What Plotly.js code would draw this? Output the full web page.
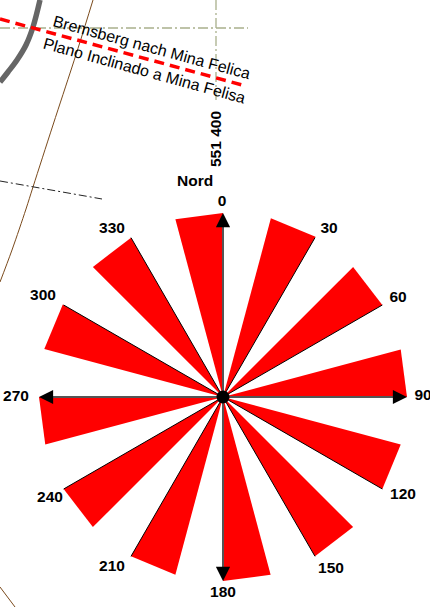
<!DOCTYPE html>
<html><head><meta charset="utf-8">
<script src="https://cdn.plot.ly/plotly-3.0.1.min.js"></script>
<style>html,body{margin:0;padding:0;background:#fff}#c{width:430px;height:607px}</style></head>
<body><div id="c"></div>
<script>
// Rose diagram
const sectorEnd = [0,30,60,90,120,150,180,210,240,270,300,330];
const sectorWidth = 15;
const sectorLen = [184,185,184,184,184,184,184,184,184,184,185,184];
const rays = [30,60,120,150,210,240,300,330];
const axes = [0,90,180,270];
const arrowTip = 184, arrowBase = 170, arrowHalf = 2.4;
const labels = ['0','30','60','90','120','150','180','210','240','270','300','330'];
const labelX = [222,329,398,423,403,331,223,112,50,16,43,112];
const labelY = [202,229,298,396,495,569,593,567,498,397,296,229];
// Map background (map units = picture grid)
const redX = [0,246], redY = [19,86];
const grayX = [40,33,26,17,8,0], grayY = [0,27,45,60,72,82];
const brownX = [93,80,72,53,33,26,12,0], brownY = [0,42,67,125,187,209,250,282];
const brown2X = [0,15], brown2Y = [587,607];
const gridHX = [0,248], gridHY = [28,28];
const gridVX = [216,216], gridVY = [0,103];
const dashX = [0,102], dashY = [181,199];

const traces = [
 {type:'scatter',mode:'lines',x:gridHX,y:gridHY,line:{color:'#a9b08c',width:1.3,dash:'10px,3px,2px,3px'},hoverinfo:'skip'},
 {type:'scatter',mode:'lines',x:gridVX,y:gridVY,line:{color:'#a9b08c',width:1.3,dash:'10px,3px,2px,3px'},hoverinfo:'skip'},
 {type:'scatter',mode:'lines',x:grayX,y:grayY,line:{color:'#666666',width:5.5,shape:'spline'},hoverinfo:'skip'},
 {type:'scatter',mode:'lines',x:brownX,y:brownY,line:{color:'#7a4a1c',width:1,shape:'spline'},hoverinfo:'skip'},
 {type:'scatter',mode:'lines',x:brown2X,y:brown2Y,line:{color:'#7a4a1c',width:1},hoverinfo:'skip'},
 {type:'scatter',mode:'lines',x:dashX,y:dashY,line:{color:'#222222',width:1,dash:'8px,3px,2px,3px'},hoverinfo:'skip'},
 {type:'scatter',mode:'lines',x:redX,y:redY,line:{color:'#ff0000',width:3.5,dash:'10px,6px'},hoverinfo:'skip'},
 {type:'scatter',mode:'text',x:labelX,y:labelY,text:labels,textposition:'middle center',
  textfont:{family:'Liberation Sans',size:15.5,color:'#000000',weight:700},cliponaxis:false,hoverinfo:'skip'}
];
sectorEnd.forEach((d,i)=>traces.push({type:'scatterpolar',mode:'lines',fill:'toself',fillcolor:'#ff0000',
  r:[0,sectorLen[i],sectorLen[i],0],theta:[d,d-sectorWidth,d,d],line:{color:'#ff0000',width:0},hoverinfo:'skip'}));
rays.forEach(a=>traces.push({type:'scatterpolar',mode:'lines',r:[0,184],theta:[a,a],line:{color:'#000000',width:1},hoverinfo:'skip'}));
axes.forEach(a=>{
 traces.push({type:'scatterpolar',mode:'lines',r:[0,172],theta:[a,a],line:{color:'#555555',width:2},hoverinfo:'skip'});
 traces.push({type:'scatterpolar',mode:'lines',fill:'toself',fillcolor:'#000000',r:[arrowTip,arrowBase,arrowBase,arrowTip],
   theta:[a,a-arrowHalf,a+arrowHalf,a],line:{color:'#000000',width:0},hoverinfo:'skip'});
});
traces.push({type:'scatterpolar',mode:'markers',r:[0],theta:[0],marker:{size:13,color:'#000000',line:{width:0}},hoverinfo:'skip'});

const F='Liberation Sans';
const ann=(text,x,y,angle,size,weight)=>({text:weight?'<b>'+text+'</b>':text,x,y,xref:'x',yref:'y',showarrow:false,textangle:angle,
  font:{family:F,size,color:'#000000'},xanchor:'center',yanchor:'middle'});
const layout={
 width:430,height:607,margin:{l:0,r:0,t:0,b:0},paper_bgcolor:'#fff',plot_bgcolor:'#fff',showlegend:false,
 xaxis:{range:[0,430],visible:false,fixedrange:true,domain:[0,1]},
 yaxis:{range:[607,0],visible:false,fixedrange:true,domain:[0,1]},
 polar:{domain:{x:[37/430,409/430],y:[(607-583)/607,(607-211)/607]},bgcolor:'rgba(0,0,0,0)',
   sector:[0,360],
   radialaxis:{range:[0,186],visible:false},
   angularaxis:{visible:false,rotation:90,direction:'clockwise',thetaunit:'degrees'}},
 annotations:[
  ann('Bremsberg nach Mina Felica',152,47,15.2,16,false),
  ann('Plano Inclinado a Mina Felisa',144,70,15.4,16,false),
  ann('551 400',215,139,-90,15.5,true),
  ann('Nord',195,180,0,15.5,true)
 ]
};
Plotly.newPlot('c',traces,layout,{staticPlot:true,displayModeBar:false});
</script></body></html>
